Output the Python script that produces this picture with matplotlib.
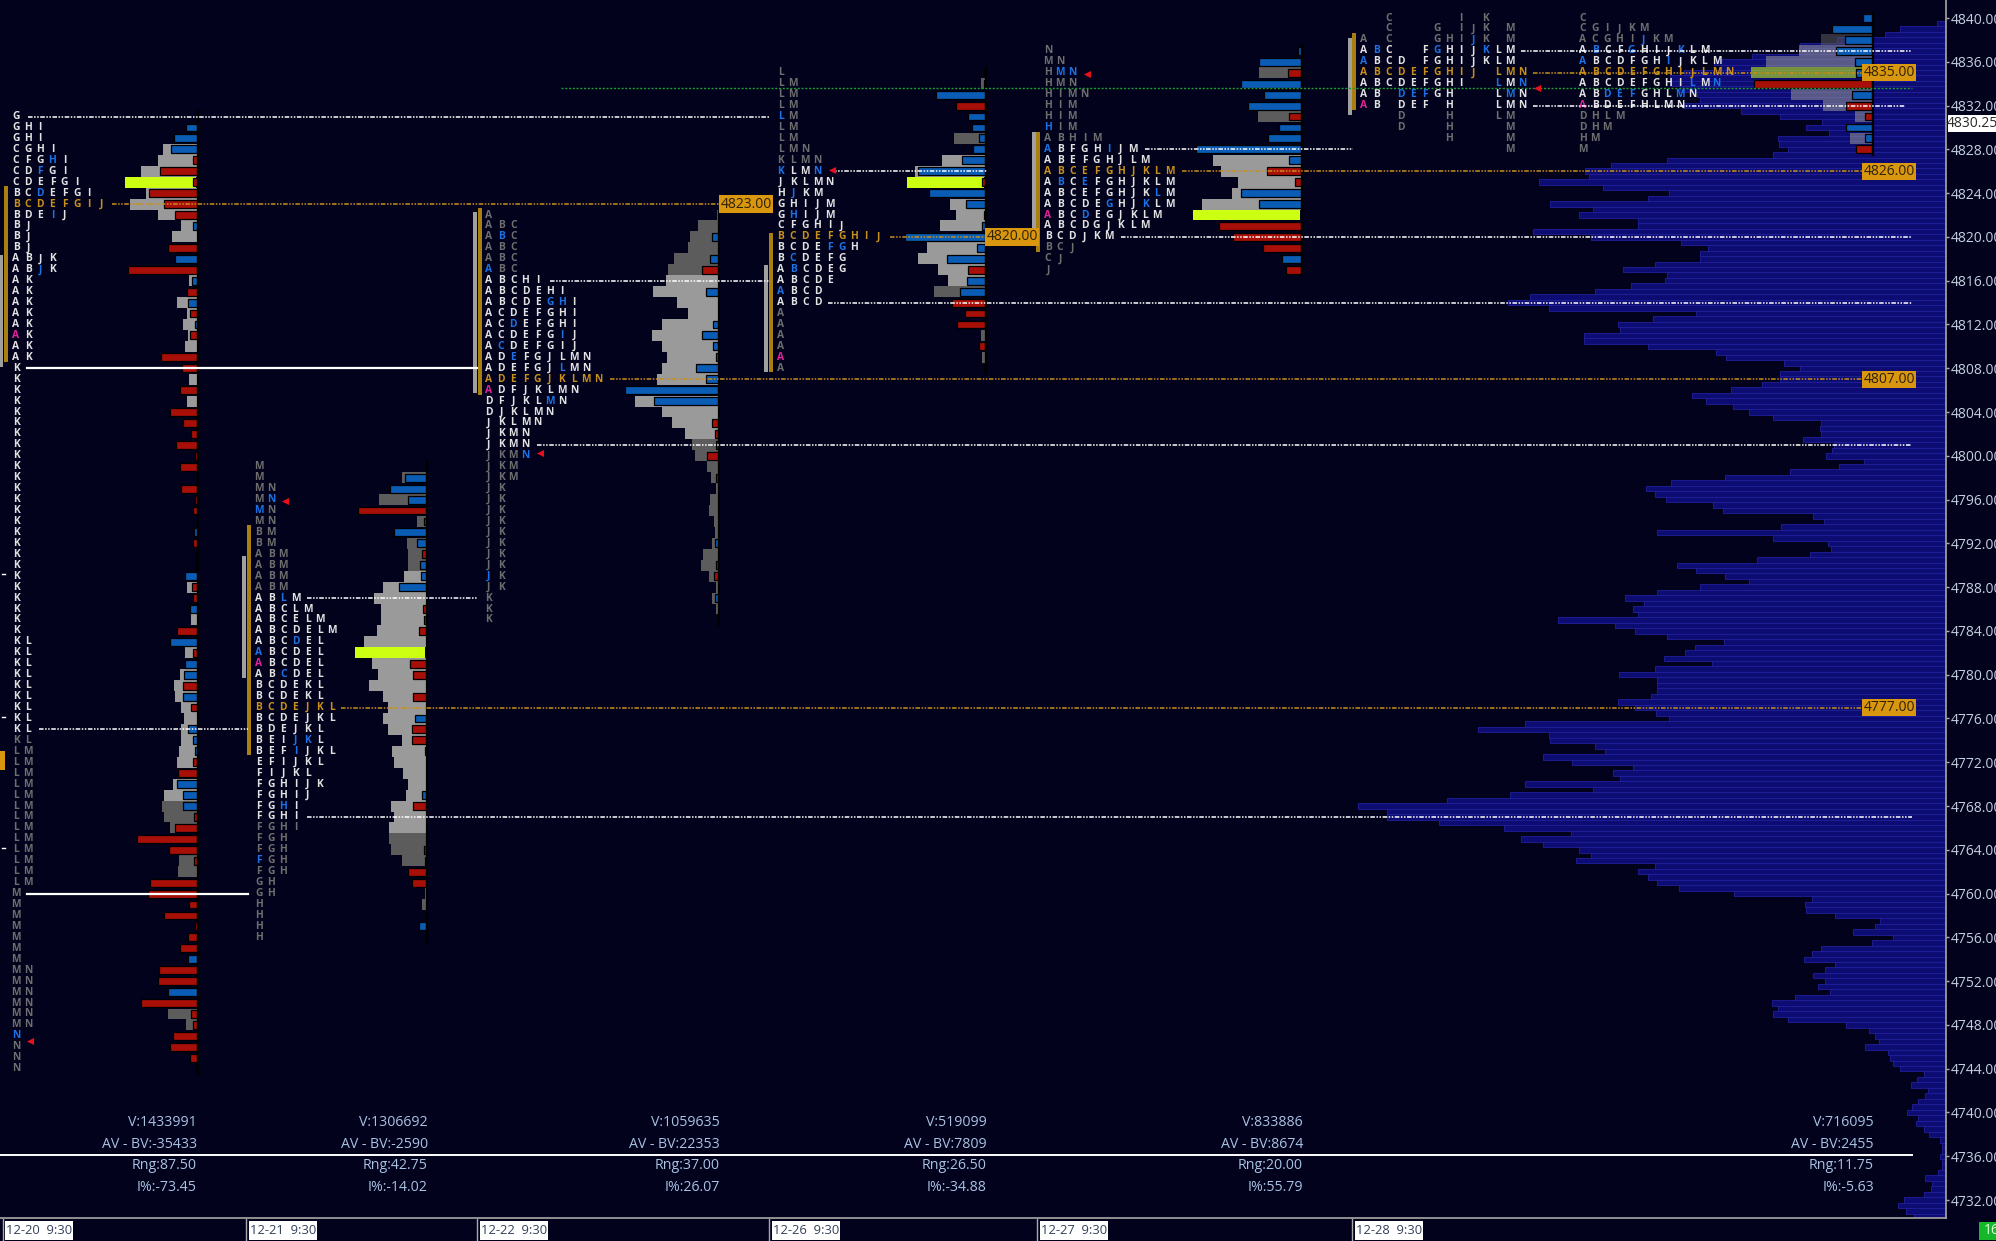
import matplotlib
matplotlib.use("Agg")
import matplotlib.pyplot as plt
from matplotlib.patches import Rectangle

plt.rcParams["font.family"] = ["Open Sans", "DejaVu Sans"]

BG = "#02021d"
LIGHT = "#9a9a9a"
DARK = "#5c5c5c"
YELLOW = "#ccff11"
RED = "#a80f08"
BLUE = "#0a5cb4"
ORANGE = "#c8901a"
LABEL = "#d9960f"
LETTER_BLUE = "#1a72e6"
PINK = "#e4209c"
STAT = "#a9c3e4"

# composite volume profile on the right, one value per half point from 4839.5 down
vp_top = 4839.5
vp_volume = [
    9, 46, 61, 109, 146, 147, 194, 232, 225, 262,
    276, 276, 266, 249, 246, 263, 205, 166, 124, 140,
    117, 168, 167, 158, 173, 279, 335, 361, 357, 407,
    343, 277, 298, 396, 353, 367, 308, 308, 413, 355,
    265, 238, 246, 246, 291, 323, 279, 281, 315, 351,
    416, 438, 397, 250, 293, 328, 326, 362, 362, 298,
    230, 220, 162, 146, 166, 166, 184, 215, 254, 240,
    213, 197, 173, 125, 126, 125, 143, 112, 114, 120,
    82, 107, 156, 221, 275, 300, 291, 280, 233, 223,
    133, 122, 165, 289, 173, 118, 115, 136, 189, 269,
    250, 221, 197, 246, 289, 321, 302, 313, 308, 388,
    331, 311, 279, 222, 251, 261, 282, 234, 291, 327,
    289, 289, 289, 295, 328, 311, 290, 277, 421, 468,
    397, 396, 351, 341, 403, 374, 313, 333, 326, 421,
    353, 436, 499, 588, 559, 559, 507, 442, 375, 425,
    403, 367, 355, 370, 291, 308, 298, 289, 267, 212,
    134, 141, 140, 111, 66, 71, 93, 53, 74, 125,
    134, 142, 111, 121, 133, 121, 128, 116, 151, 174,
    168, 173, 158, 100, 77, 71, 67, 81, 58, 56,
    53, 46, 22, 29, 35, 18, 21, 28, 34, 39,
    28, 30, 22, 17, 6, 4, 4, 6, 4, 4,
    8, 21, 14, 15, 22, 42, 48, 40, 32,
]

# session rows, top price first. lowercase = blue letter, ! = pink letter
s1_top = 4831
s1_letters = (
    ["G", "GHI", "GHI", "CGHI", "CFGhI", "CDfGI", "CDEFGI", "BCdEFGI", "BCDEFGIJ", "BDEiJ",
     "BJ", "BJ", "BJ", "ABJK", "ABjK", "AK", "AK", "AK", "AK", "AK", "!AK", "AK", "AK"]
    + ["K"] * 25 + ["KL"] * 10 + ["LM"] * 13 + ["M"] * 7 + ["MN"] * 6 + ["n", "N", "N", "N"]
)
s1_gray = [
    0, 0, 0, 34, 39, 56, 71, 51, 67, 39, 16, 25, 0, 0, 0, 8, 0, 20, 10, 14, 9, 12, 0, 0, 8, 0, 10,
    0, 0, 0, 0, 0, 0, 0, 0, 0, 0, 0, 0, 0, 0, 0, 0,
    10, 0, 0, 6, 0, 0, 12, 0, 17, 23, 22, 16, 13, 16, 16, 18, 20, 0, 24, 33, 35, 33, 27, 0, 0, 18, 19,
    0, 0, 0, 0, 0, 0, 0, 0, 0, 0, 0, 0, 29, 11, 0, 0, 0, 0,
]
s1_delta = [
    0, 11, 23, 26, -4, -37, -4, -48, -33, -22, 4, 0, -29, 22, -69, 5, -10, 9, -7, 2, -7, 0, -36, -15, 0, -17, 0,
    -27, -14, -6, -21, -2, -17, 0, -16, -2, -4, 0, 3, -4, 1, -1, 12, -5, -4, 7, 0, -20, 27, -4, 12, 13, -14, 14,
    -6, 0, 9, 4, 2, -4, -19, 20, 14, 14, -3, -22, -60, -28, -3, 0, -47, -49, -8, -33, -2, -9, -17, 9, -38, -39,
    29, -56, -6, -4, -24, -27, -7, -1,
]

s2_top = 4799
s2_letters = [
    "M", "M", "MN", "Mn", "mN", "MN", "BM", "BM", "ABM", "ABM", "ABM", "ABM",
    "ABlM", "ABCLM", "ABCELM", "ABCDELM", "ABCdEL", "aBCDEL", "!ABCDEL", "ABcDEL", "BCDEKL", "BCDEKL",
    "BCDEJKL", "BCDEJKL", "BDEJKL", "BEIjkL", "BEFiJKL", "EFIJKL", "FIJKL", "FGHIJK", "FGHIJ", "FGhI", "FGHI",
    "FGHI", "FGH", "FGH", "fGH", "FGH", "GH", "GH", "H", "H", "H", "H",
]
s2_gray = [
    0, 24, 0, 47, 0, 9, 0, 19, 18, 18, 22, 43, 52, 45, 45, 49, 62, 70, 54, 48, 57, 43, 38, 43, 38, 24, 34, 32,
    23, 18, 20, 35, 32, 37, 37, 35, 24, 0, 0, 1, 4, 0, 0, 0,
]
s2_delta = [
    0, 21, 36, 18, -68, -2, 32, 9, -4, 6, 5, 27, 0, -3, -2, -7, 0, 0, -16, -13, 0, -13, 0, 11, -14, -14, -1, 0,
    0, 0, 4, -13, 0, 0, 0, -2, -1, -18, -14, 0, 0, 0, 7, 0,
]

s3_top = 4822
s3_letters = [
    "A", "ABC", "AbC", "ABC", "ABC", "aBC",
    "ABCHI", "ABCDEHI", "ABCDEghI", "ACDEFGHI", "ACdEFGHI", "ACDEFGiJ", "AcDEFGIJ", "ADeFGJLMN", "ADEFGJlMN",
    "ADEFGJKLMN", "!ADFJKLMN", "DFJKLmN", "DJKLMN", "JKLMN", "JKMN", "JKMN",
    "JKMn", "JKM", "JKM", "JK", "JK", "JK", "JK", "JK", "JK", "JK", "JK", "jK", "JK", "K", "K", "K",
]
s3_gray = [
    1, 20, 28, 30, 44, 50, 52, 65, 41, 30, 56, 66, 56, 51, 56, 61, 0, 83, 56, 46, 33, 26, 23, 11, 7, 2, 8, 9, 4,
    3, 6, 15, 17, 9, 2, 6, 2, 0,
]
s3_delta = [
    0, 0, 6, 0, 8, -16, 0, 12, 0, 0, 5, 16, 5, 2, 22, 12, 93, 64, 0, -6, -3, -2, -11, 0, -2, 0, 0, 0, 0,
    0, 3, 0, -2, -4, 0, 3, 0, 0,
]

s4_top = 4835
s4_letters = [
    "L", "LM", "LM", "LM", "lM", "LM", "LM", "LMN", "KLMN", "kLMn", "JKLMN", "HjKM", "GHIJM", "GhIJM", "CFGHIJ",
    "BCDEFGHIJ", "BCDEfgH", "BcDEFG", "AbCDEG", "ABCDE", "aBCD", "ABCD", "A", "A", "A", "A", "!A", "A",
]
s4_gray = [0, 4, 0, 0, 0, 0, 31, 0, 43, 70, 77, 0, 35, 29, 45, 0, 58, 67, 47, 37, 51, 0, 0, 0, 4, 0, 3, 0]
s4_delta = [1, -1, 49, -29, 17, 13, 6, 12, 23, 67, -3, 56, 19, -1, 3, 80, 8, 38, -17, 18, 25, -33, -20, -28, 0, -6, 0, -1]

s5_top = 4837
s5_letters = [
    "N", "MN", "Hmn", "HMN", "HIMN", "HIM", "HIM", "hIM", "ABHIM", "aBFGHiJM", "ABEFGHJLM", "ABCEFGHJKLM",
    "AbCeFGHJKLM", "ABCEFGHJKlM", "ABCDEgHJkLM", "!ABCdEGJKLM", "ABCDGJKLM", "BCDJKM", "BCJ", "CJ", "J",
]
s5_gray = [0, 0, 42, 0, 0, 0, 43, 0, 0, 0, 88, 80, 63, 69, 99, 107, 0, 0, 0, 0, 0]
s5_delta = [3, 42, -13, 60, 37, 53, -12, 22, 33, 105, 12, -34, -6, 60, 42, 0, -82, -68, -38, 19, -15]

s6_top = 4840
s6_letters = [
    "CIK", "CGIJKM", "ACGHIjKM", "AbCFgHIJkLM", "aBCDFGHIJKLM", "ABCDEFGHIJLMN", "ABCDEFGHIlMn", "ABdefGHLmN",
    "!ABDEFHLMN", "DHLM", "DHM", "HM", "M",
]

s7_top = 4840
s7_letters = [
    "C", "CGIJKM", "ACGHIjKM", "AbCFgHIJkLM", "aBCDFGHiJKLM", "ABCDEFGHIJLMN", "ABCDEFGHIlMn", "ABdefGHLmN",
    "!ABDEFHLMN", "DHLM", "DHM", "HM", "M",
]
s7_gray = [0, 0, 51, 73, 106, 120, 0, 81, 49, 17, 0, 22, 0]
s7_delta = [9, 40, 27, 36, 17, 16, -118, 20, -26, -7, 26, 7, -16]

date_labels = ["12-20  9:30", "12-21  9:30", "12-22  9:30", "12-26  9:30", "12-27  9:30", "12-28  9:30"]
stat_v = ["V:1433991", "V:1306692", "V:1059635", "V:519099", "V:833886", "V:716095"]
stat_av = ["AV - BV:-35433", "AV - BV:-2590", "AV - BV:22353", "AV - BV:7809", "AV - BV:8674", "AV - BV:2455"]
stat_rng = ["Rng:87.50", "Rng:42.75", "Rng:37.00", "Rng:26.50", "Rng:20.00", "Rng:11.75"]
stat_imb = ["I%:-73.45", "I%:-14.02", "I%:26.07", "I%:-34.88", "I%:55.79", "I%:-5.63"]

poc_levels = [4823, 4777, 4807, 4820, 4826, 4835]
poc_names = ["4823.00", "4777.00", "4807.00", "4820.00", "4826.00", "4835.00"]


def draw_letters(ax, top, rows, x0, bright_hi, bright_lo, poc, by_letter=False):
    for i, row in enumerate(rows):
        price = top - i
        col = 0
        pink = False
        for ch in row:
            if ch == "!":
                pink = True
                continue
            if price == poc:
                color = ORANGE
            elif pink:
                color = PINK
            elif ch.islower():
                color = LETTER_BLUE
            elif bright_lo <= price <= bright_hi:
                color = "#e2e2e2"
            else:
                color = "#6e6e6e"
            pos = ord(ch.upper()) - 65 if by_letter else col
            ax.text(x0 + pos * 12.15, price, ch.upper(), color=color, fontsize=7.4, fontweight="bold",
                    ha="center", va="center", zorder=4)
            col += 1
            pink = False


def draw_bars(ax, top, gray, delta, edge, light_hi, light_lo, poc_row=None, alpha=1.0):
    for i, (g, d) in enumerate(zip(gray, delta)):
        price = top - i
        if g:
            if price == poc_row:
                color = YELLOW
            elif light_lo <= price <= light_hi:
                color = LIGHT
            else:
                color = DARK
            right = edge - 1 if price == poc_row else edge
            ax.barh(price, g, left=right - g, height=1.0, color=color, alpha=alpha, linewidth=0, zorder=2)
        if d:
            ax.barh(price, abs(d), left=edge - abs(d), height=0.72, color=BLUE if d > 0 else RED,
                    edgecolor="black", linewidth=0.9, zorder=3)
    ax.plot([edge + 1, edge + 1], [top + 0.5, top - len(gray) + 0.5], color="black", lw=1.6, zorder=3)


def level(ax, price, x0, x1, color="white", ls=(0, (3, 1, 1, 1, 1, 1)), lw=1.1):
    ax.plot([x0, x1], [price, price], color=color, ls=ls, lw=lw, zorder=5)


def value_bar(ax, x, lo, hi, color, w=4):
    ax.add_patch(Rectangle((x, lo), w, hi - lo, facecolor=color, edgecolor="none", zorder=3))


def main():
    fig = plt.figure(figsize=(19.96, 12.41), dpi=100, facecolor=BG)
    ax = fig.add_axes([0, 23 / 1241, 1946 / 1996, 1218 / 1241], facecolor=BG)
    ax.set_xlim(0, 1946)
    ax.set_ylim(4730.36, 4841.645)
    ax.set_xticks([])
    ax.yaxis.tick_right()
    ax.set_yticks(range(4732, 4841, 4))
    ax.set_yticklabels([f"{p}.00" for p in range(4732, 4841, 4)], color="#c4d0de", fontsize=10)
    ax.tick_params(axis="y", color="#b0b0b0", length=2, width=1, pad=1.5)
    for side in ["top", "left"]:
        ax.spines[side].set_visible(False)
    for side in ["right", "bottom"]:
        ax.spines[side].set_color("#a8a8a8")
        ax.spines[side].set_linewidth(1.2)

    # composite profile
    vp_prices = [vp_top - 0.5 * i for i in range(len(vp_volume))]
    ax.barh(vp_prices, vp_volume, left=[1946 - v for v in vp_volume], height=0.5,
            color="#0c0c72", edgecolor="#20209a", linewidth=0.6, zorder=1)

    # session footprints
    draw_bars(ax, s1_top, s1_gray, s1_delta, 197, 4840, 4769, 4825)
    draw_bars(ax, s2_top, s2_gray, s2_delta, 426, 4789, 4766, 4782)
    draw_bars(ax, s3_top, s3_gray, s3_delta, 718, 4816, 4802)
    draw_bars(ax, s4_top, s4_gray, s4_delta, 985, 4828, 4816, 4825)
    draw_bars(ax, s5_top, s5_gray, s5_delta, 1301, 4828, 4800, 4822)
    draw_bars(ax, s7_top, s7_gray, s7_delta, 1872, 4837, 4800, 4835, alpha=0.55)

    draw_letters(ax, s1_top, s1_letters, 16, 4831, 4775, 4823)
    draw_letters(ax, s2_top, s2_letters, 259, 4787, 4767, 4777)
    draw_letters(ax, s3_top, s3_letters, 489, 4816, 4801, 4807)
    draw_letters(ax, s4_top, s4_letters, 781, 4826, 4814, 4820)
    draw_letters(ax, s5_top, s5_letters, 1048, 4828, 4820, 4826)
    draw_letters(ax, s6_top, s6_letters, 1364, 4837, 4832, 4835, by_letter=True)
    draw_letters(ax, s7_top, s7_letters, 1583, 4837, 4832, 4835)

    # value area bars left of each session
    value_bar(ax, 3.5, 4808.6, 4824.65, "#a9800f")
    value_bar(ax, 0, 4808.1, 4818.35, "#a0a0a0", 3)
    value_bar(ax, 247, 4772.7, 4793.7, "#a9800f")
    value_bar(ax, 242, 4779.7, 4790.8, "#a0a0a0")
    value_bar(ax, 477.5, 4805.6, 4822.6, "#a9800f")
    value_bar(ax, 473, 4805.7, 4822.3, "#a0a0a0")
    value_bar(ax, 768.5, 4807.7, 4820.4, "#a9800f")
    value_bar(ax, 764, 4807.7, 4817.4, "#a0a0a0")
    value_bar(ax, 1036, 4818.6, 4829.6, "#a9800f")
    value_bar(ax, 1032, 4820.4, 4829.6, "#a0a0a0")
    value_bar(ax, 1352, 4831.6, 4838.6, "#a9800f")
    value_bar(ax, 1348, 4831.1, 4838.2, "#a0a0a0")

    # white levels
    level(ax, 4831, 28, 770)
    level(ax, 4808, 27, 477, ls="-", lw=1.6)
    level(ax, 4775, 39, 248)
    level(ax, 4760, 27, 248, ls="-", lw=1.6)
    level(ax, 4787, 307, 477)
    level(ax, 4767, 307, 1912)
    level(ax, 4816, 550, 770)
    level(ax, 4801, 537, 1912)
    level(ax, 4826, 832, 987)
    level(ax, 4814, 828, 1912)
    level(ax, 4828, 1145, 1353)
    level(ax, 4820, 1121, 1912)
    level(ax, 4837, 1521, 1912)
    level(ax, 4832, 1533, 1905)
    level(ax, 4833.6, 561, 1912, color="#1f9a2e", ls=(0, (1.5, 1.2)), lw=1.0)

    # orange POC levels and their labels
    poc_x0 = [112, 341, 610, 890, 1182, 1533]
    poc_x1 = [722, 1865, 1865, 988, 1865, 1865]
    for price, name, x0, x1 in zip(poc_levels, poc_names, poc_x0, poc_x1):
        level(ax, price, x0, x1, color="#c8901a")
        ax.text(x1 + 24, price, name, color="#2e2206", fontsize=10, ha="center", va="center", zorder=7,
                bbox=dict(boxstyle="square,pad=0.08", facecolor=LABEL, edgecolor="none"))

    # initiative arrows
    arrow_x = [30, 285, 540, 832, 1087, 1537]
    arrow_p = [4746.5, 4795.9, 4800.3, 4826.1, 4834.9, 4833.6]
    ax.scatter(arrow_x, arrow_p, marker="<", s=26, color="#e8101a", linewidths=0, zorder=6)

    # pixel overlay for the footer
    ov = fig.add_axes([0, 0, 1, 1], facecolor="none")
    ov.set_xlim(0, 1996)
    ov.set_ylim(1241, 0)
    ov.axis("off")

    stat_right = [197, 428, 720, 987, 1303, 1874]
    for i, right in enumerate(stat_right):
        ov.text(right, 1122.5, stat_v[i], color=STAT, fontsize=10.2, ha="right", va="center")
        ov.text(right, 1144.5, stat_av[i], color=STAT, fontsize=10.2, ha="right", va="center")
        ov.text(right, 1165.5, stat_rng[i], color=STAT, fontsize=10.2, ha="right", va="center")
        ov.text(right, 1187.5, stat_imb[i], color=STAT, fontsize=10.2, ha="right", va="center")
    ov.plot([0, 1912], [1155, 1155], color="white", lw=1.4)

    date_x = [5, 249, 480, 772, 1040, 1355]
    sep_x = [3, 246, 477, 769, 1037, 1352]
    for x, sx, label in zip(date_x, sep_x, date_labels):
        ov.plot([sx, sx], [1219, 1241], color="#a8a8a8", lw=1)
        ov.add_patch(Rectangle((x, 1221), 68, 19, facecolor="white", edgecolor="none"))
        ov.text(x + 34, 1230.5, label, color="#33415a", fontsize=9.4, ha="center", va="center")

    # last price and clock boxes
    ov.add_patch(Rectangle((1948, 115), 48, 17, facecolor="white", edgecolor="none"))
    ov.text(1972, 123.5, "4830.25", color="#2a2a2a", fontsize=10, ha="center", va="center")
    ov.add_patch(Rectangle((1979, 1222), 17, 18, facecolor="#16b72a", edgecolor="none"))
    ov.text(1984, 1231, "16", color="#d8ffd8", fontsize=10, ha="left", va="center")

    # small marks on the left edge
    for y in [574, 717, 848]:
        ov.plot([2, 5], [y, y], color="white", lw=1)
    ov.add_patch(Rectangle((0, 751), 5, 19, facecolor=LABEL, edgecolor="none"))

    fig.savefig("out.png", dpi=100, facecolor=BG)


if __name__ == "__main__":
    main()
